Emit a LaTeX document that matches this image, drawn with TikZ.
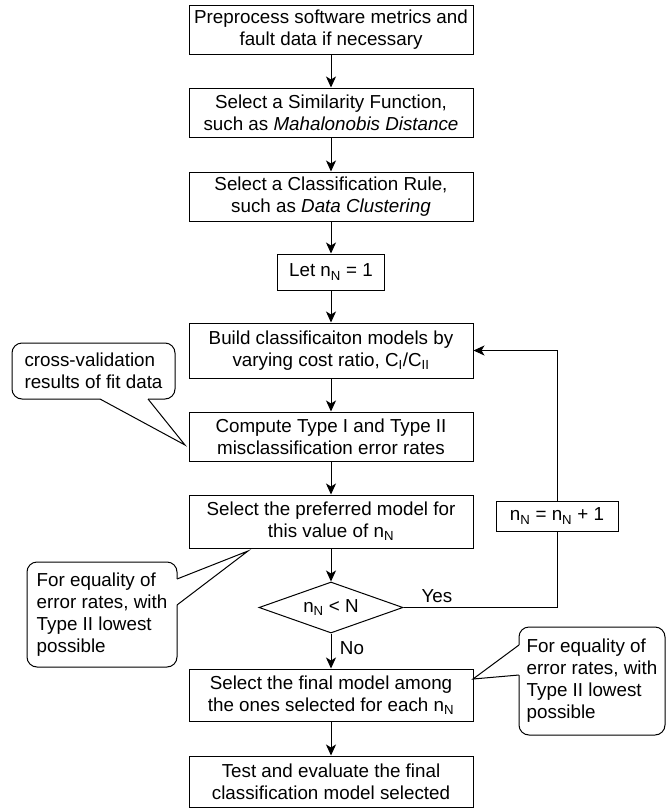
\documentclass[tikz,border=0pt]{standalone}
\usepackage{fontspec}
\setmainfont{Liberation Sans}
\usetikzlibrary{arrows.meta,shapes.geometric}
\newcommand{\mysub}[1]{\textsubscript{#1}}
\begin{document}
\begin{tikzpicture}[x=1pt,y=-1pt,line width=1pt,
  every node/.style={font=\fontsize{18.8}{22}\selectfont},
  box/.style={draw, align=center, inner sep=0pt, minimum width=284pt},
  arr/.style={-{Stealth[length=11pt,width=10pt,inset=3pt]}},
  note/.style={draw, fill=white, rounded corners=10pt, align=left, inner sep=0pt}]
\useasboundingbox (0,0) rectangle (667,809);

% main column
\node[box, minimum height=49pt] (p1) at (331,29.5) {Preprocess software metrics and\\fault data if necessary};
\node[box, minimum height=49pt] (p2) at (331,112.5) {Select a Similarity Function,\\such as \textit{Mahalonobis Distance}};
\node[box, minimum height=49pt] (p3) at (331,196.5) {Select a Classification Rule,\\such as \textit{Data Clustering}};
\node[box, minimum width=107pt, minimum height=36pt] (p4) at (331,272) {Let n\mysub{N} = 1};
\node[box, minimum height=55pt] (p5) at (331,350.5) {Build classificaiton models by\\varying cost ratio, C\mysub{I}/C\mysub{II}};
\node[box, minimum height=49pt] (p6) at (331,436.5) {Compute Type I and Type II\\misclassification error rates};
\node[box, minimum height=53pt] (p7) at (331,521.5) {Select the preferred model for\\this value of n\mysub{N}};
\node[draw, diamond, aspect=2.8, inner sep=0pt, minimum width=144pt, minimum height=51pt] (d) at (331,607.5) {n\mysub{N} < N};
\node[box, minimum height=52pt] (p8) at (331,695) {Select the final model among\\the ones selected for each n\mysub{N}};
\node[box, minimum height=51pt] (p9) at (331,781.5) {Test and evaluate the final\\classification model selected};
\node[draw, inner sep=0pt, minimum width=122pt, minimum height=30pt] (inc) at (557,516) {n\mysub{N} = n\mysub{N} + 1};

% connectors
\draw[arr] (p1) -- (p2);
\draw[arr] (p2) -- (p3);
\draw[arr] (p3) -- (p4);
\draw[arr] (p4) -- (p5);
\draw[arr] (p5) -- (p6);
\draw[arr] (p6) -- (p7);
\draw[arr] (p7) -- (d);
\draw[arr] (d) -- (p8);
\draw[arr] (p8) -- (p9);
\draw (d.east) -- (d.east -| inc.south) -- (inc.south);
\draw[arr] (inc.north) |- (p5.east);
\node (yes) at (437,596) {Yes};
\node (no) at (352,648) {No};

% callout 1
\node[note, minimum width=163pt, minimum height=56pt] (n1) at (93.5,371) {cross-validation\\results of fit data};
\coordinate (n1a) at (100,399);
\coordinate (n1b) at (148,399);
\coordinate (n1t) at (185,445);
\fill[white] (n1t) -- (n1a) -- (100,396) -- (148,396) -- (n1b) -- cycle;
\draw (n1a) -- (n1t) -- (n1b);

% callout 2
\node[note, minimum width=150pt, minimum height=105pt] (n2) at (102,614.5) {For equality of\\error rates, with\\Type II lowest\\possible};
\coordinate (n2a) at (177,579);
\coordinate (n2b) at (177,605);
\coordinate (n2t) at (248,551);
\fill[white] (n2t) -- (n2a) -- (174,579) -- (174,605) -- (n2b) -- cycle;
\draw (n2a) -- (n2t) -- (n2b);

% callout 3
\node[note, minimum width=146pt, minimum height=108pt] (n3) at (592,681) {For equality of\\error rates, with\\Type II lowest\\possible};
\coordinate (n3a) at (519,645);
\coordinate (n3b) at (519,675);
\coordinate (n3t) at (473,679);
\fill[white] (n3t) -- (n3a) -- (522,645) -- (522,675) -- (n3b) -- cycle;
\draw (n3a) -- (n3t) -- (n3b);
\end{tikzpicture}
\end{document}
